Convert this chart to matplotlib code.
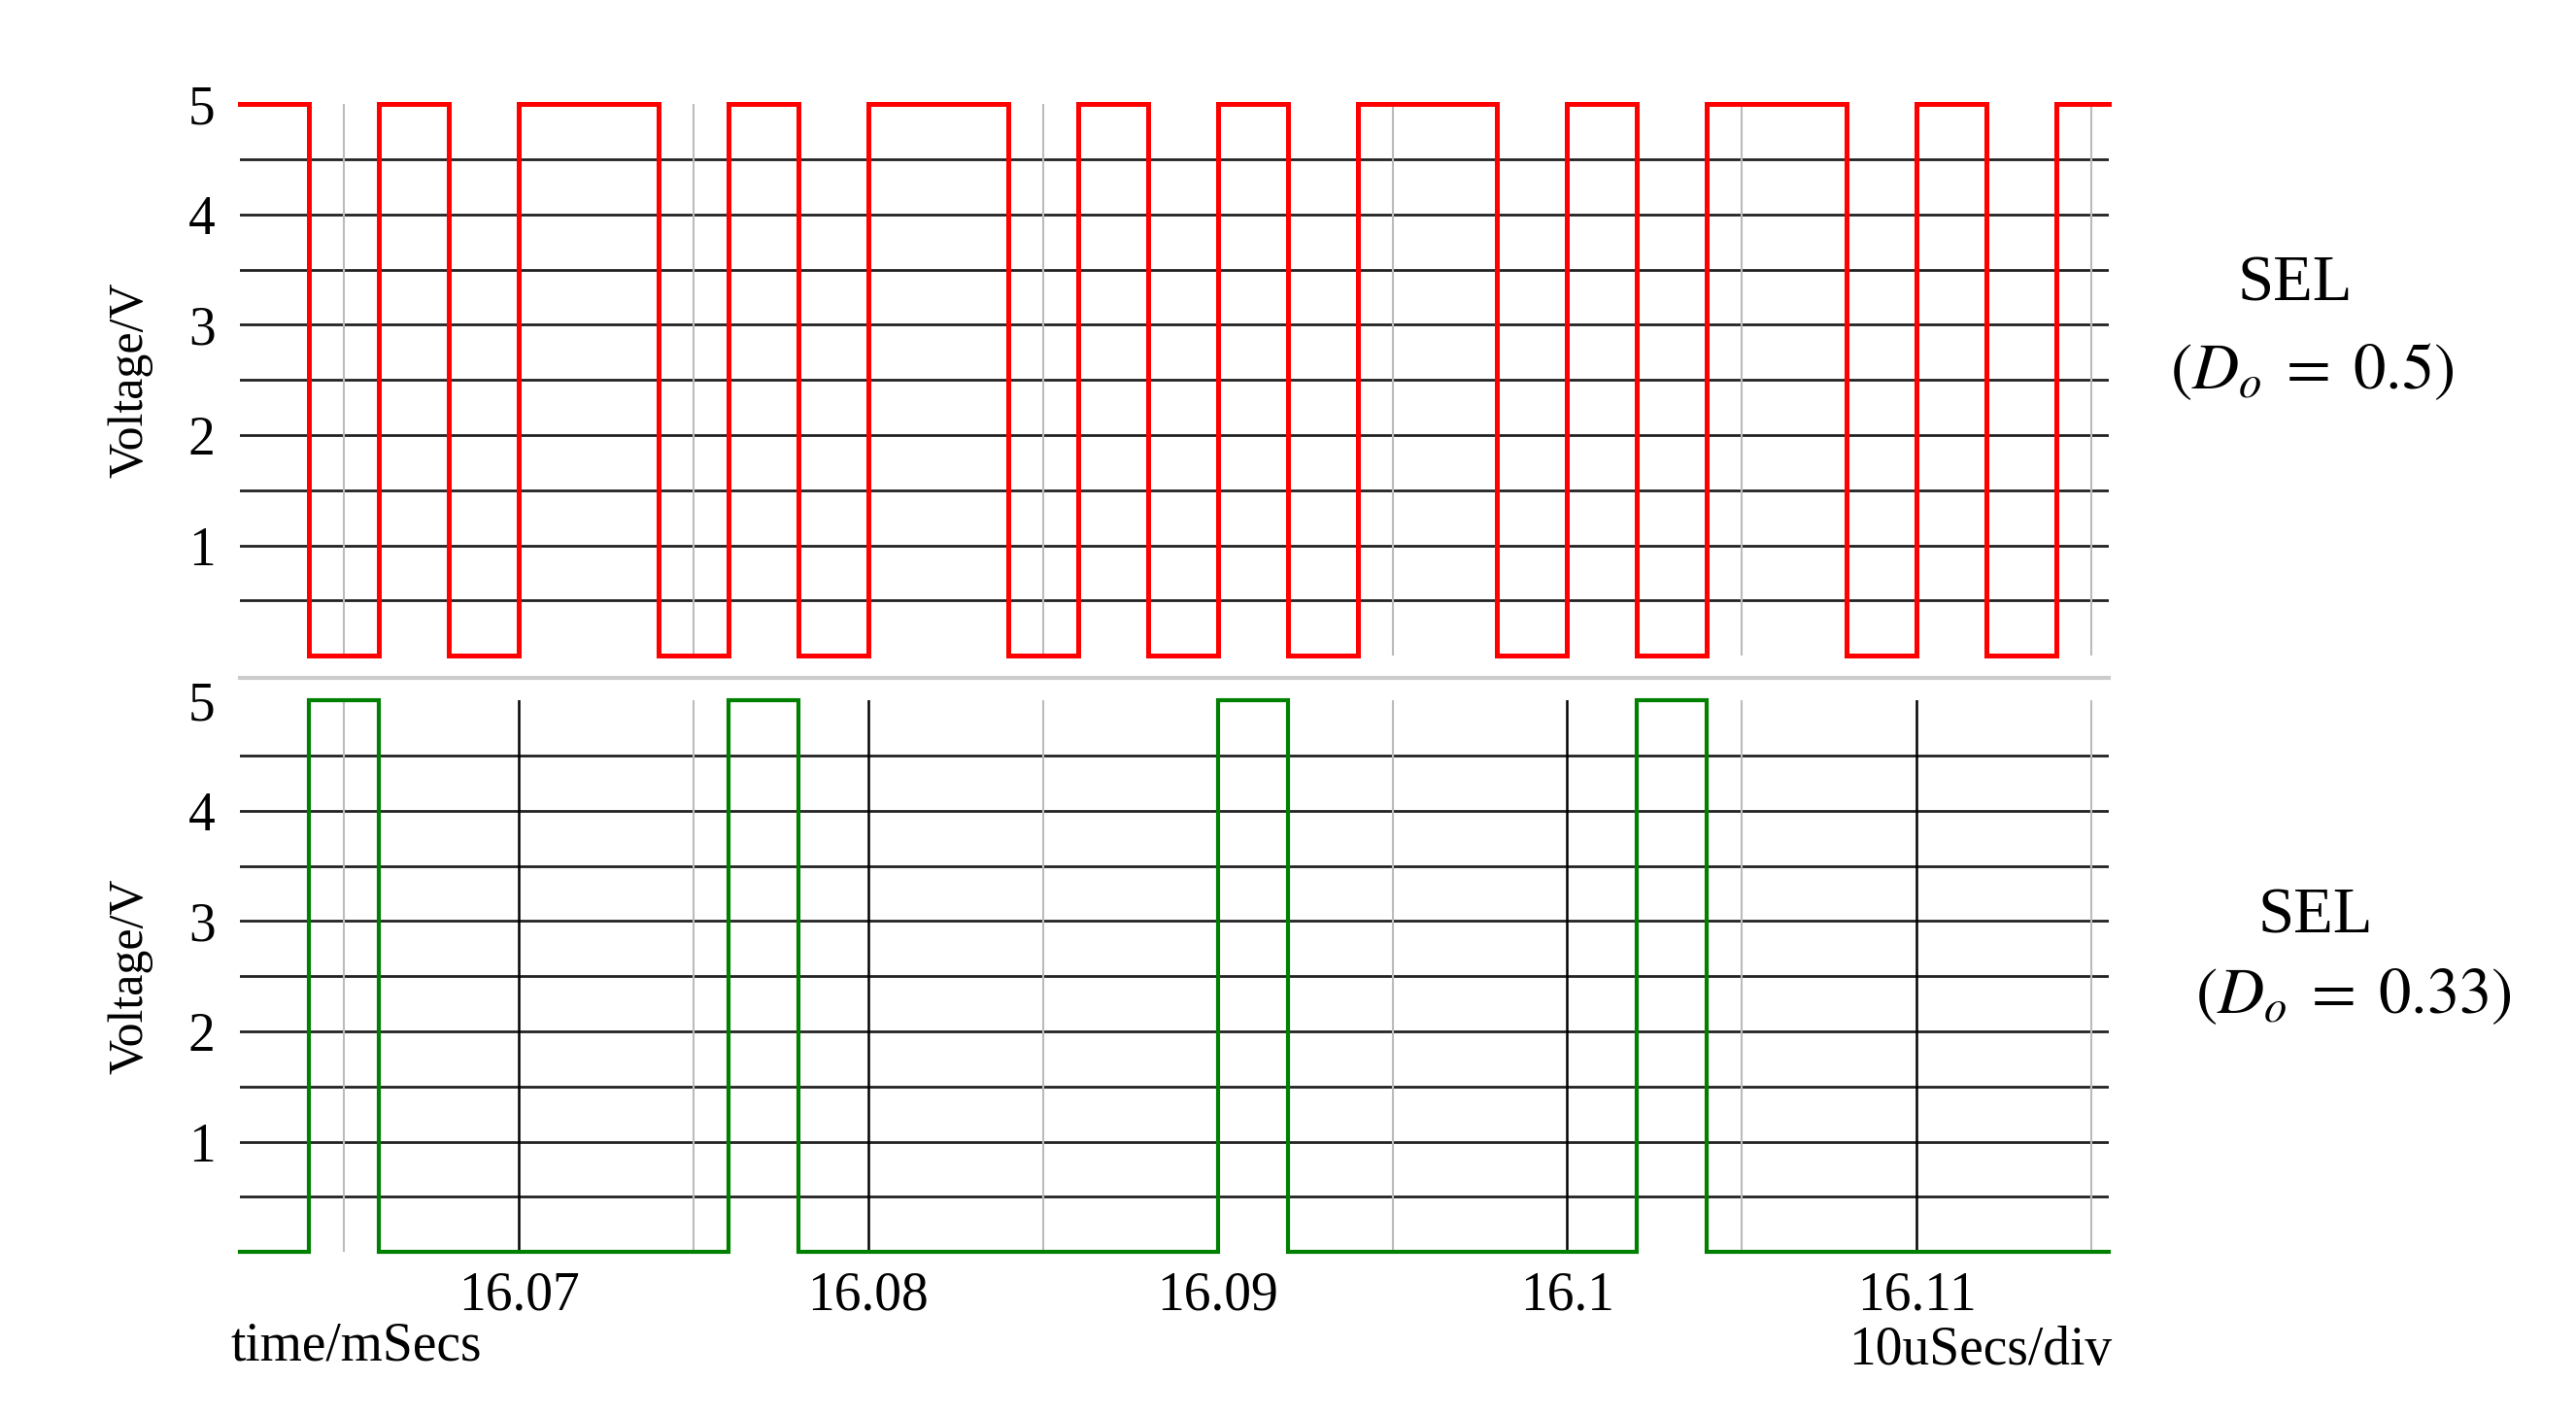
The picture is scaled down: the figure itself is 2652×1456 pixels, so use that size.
import matplotlib
matplotlib.use("Agg")
import matplotlib.pyplot as plt
import numpy as np

plt.rcParams['font.family'] = ['Liberation Serif', 'DejaVu Serif']
plt.rcParams['mathtext.fontset'] = 'stix'

# transition times (ms) and levels
t_start, t_end = 16.062, 16.1155
red_edges = [16.064, 16.066, 16.068, 16.070, 16.074, 16.076, 16.078, 16.080, 16.084,
             16.086, 16.088, 16.090, 16.092, 16.094, 16.098, 16.100, 16.102, 16.104,
             16.108, 16.110, 16.112, 16.114]
red_start_level = 5
green_edges = [16.064, 16.066, 16.076, 16.078, 16.090, 16.092, 16.102, 16.104]
green_start_level = 0
xticks = [16.07, 16.08, 16.09, 16.1, 16.11]
xticklabels = ['16.07', '16.08', '16.09', '16.1', '16.11']
yticks = [1, 2, 3, 4, 5]

def wave(edges, start):
    t = [t_start]; v = [start]; lvl = start
    for e in edges:
        t += [e, e]; v += [lvl, 5 - lvl]; lvl = 5 - lvl
    t.append(t_end); v.append(lvl)
    return t, v

W, H = 1560, 856
fig = plt.figure(figsize=(26.52, 14.56), dpi=100)
ax1 = fig.add_axes([145/W, 1-397/H, (1277-145)/W, (397-63)/H])
ax2 = fig.add_axes([145/W, 1-758/H, (1277-145)/W, (758-424)/H])

for ax, edges, start, col, lw in [(ax1, red_edges, red_start_level, '#ff0000', 3.6),
                                  (ax2, green_edges, green_start_level, '#008000', 3.0)]:
    ax.set_xlim(t_start, t_end)
    ax.set_ylim(0, 5)
    for s in ax.spines.values():
        s.set_visible(False)
    for y in np.arange(0.5, 5, 0.5):
        ax.axhline(y, color='#222222', lw=2.0, zorder=1)
    for x in np.arange(16.065, 16.116, 0.01):
        ax.axvline(x, color='#bbbbbb', lw=1.5, zorder=1)
    for x in xticks:
        ax.axvline(x, color='black', lw=1.8, zorder=1)
    t, v = wave(edges, start)
    ax.plot(t, v, color=col, lw=lw, zorder=3, solid_joinstyle='miter', clip_on=False)
    ax.set_yticks(yticks)
    ax.set_yticklabels([str(y) for y in yticks], fontsize=40)
    ax.tick_params(axis='y', length=0, pad=18)
    ax.set_ylabel('Voltage/V', fontsize=36, labelpad=26)

ax1.set_xticks([])
ax1.axhline(-0.2, color='#cccccc', lw=3, clip_on=False)
ax2.set_xticks(xticks)
ax2.set_xticklabels(xticklabels, fontsize=40)
ax2.tick_params(axis='x', length=0, pad=14)

fig.text(1390/W, 1-172/H, 'SEL', fontsize=48, ha='center', va='center')
fig.text(1400/W, 1-225/H, r'$(D_o\;=\;0.5)$', fontsize=48, ha='center', va='center')
fig.text(1402/W, 1-555/H, 'SEL', fontsize=48, ha='center', va='center')
fig.text(1425/W, 1-603/H, r'$(D_o\;=\;0.33)$', fontsize=48, ha='center', va='center')
fig.text(140/W, 1-815/H, 'time/mSecs', fontsize=40, ha='left', va='center')
fig.text(1279/W, 1-818/H, '10uSecs/div', fontsize=40, ha='right', va='center')

fig.savefig('out.png', dpi=100)
